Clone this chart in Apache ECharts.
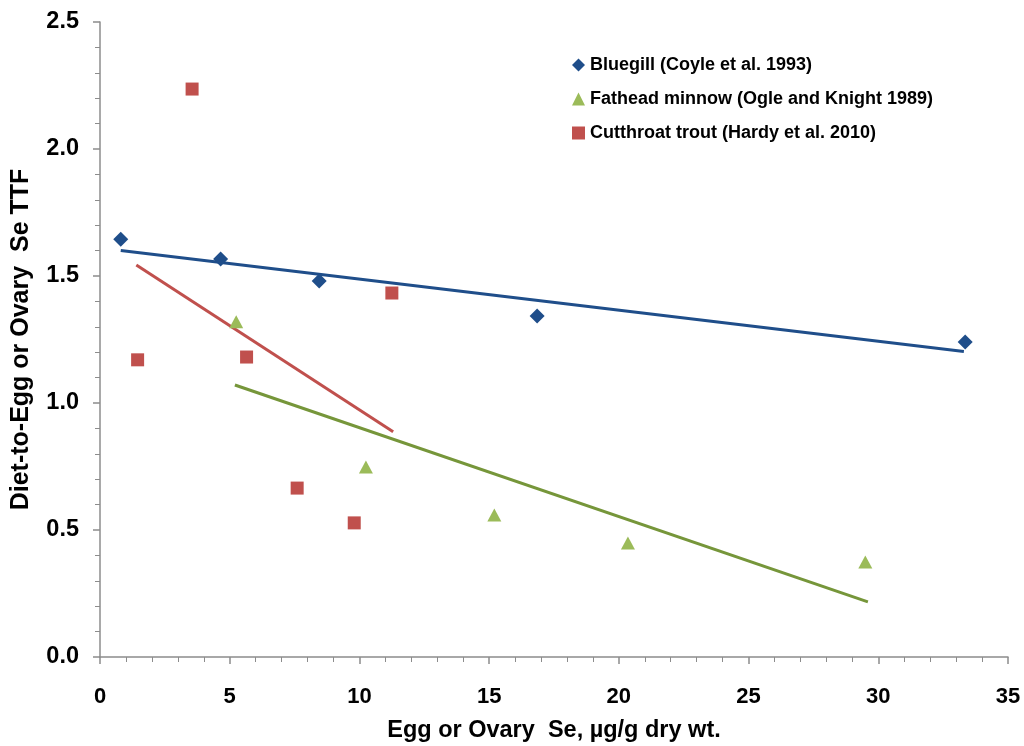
<!DOCTYPE html>
<html>
<head>
<meta charset="utf-8">
<script src="https://cdn.jsdelivr.net/npm/echarts@6/dist/echarts.min.js"></script>
<style>
  html, body { margin: 0; padding: 0; background: #fff; }
  #chart { width: 1024px; height: 746px; }
</style>
</head>
<body>
<div id="chart"></div>
<script>
// Selenium trophic transfer factor vs. egg/ovary selenium
const bluegill = [[0.8, 1.645], [4.65, 1.567], [8.45, 1.48], [16.85, 1.343], [33.35, 1.24]];
const fathead = [[5.25, 1.32], [10.25, 0.748], [15.2, 0.559], [20.35, 0.449], [29.5, 0.374]];
const cutthroat = [[3.55, 2.236], [1.45, 1.17], [5.65, 1.181], [11.25, 1.433], [7.6, 0.665], [9.8, 0.528]];

// Linear trend line end points
const bluegillTrend = [[0.8, 1.60], [33.3, 1.203]];
const fatheadTrend = [[5.2, 1.071], [29.6, 0.217]];
const cutthroatTrend = [[1.4, 1.543], [11.3, 0.887]];

const xTicks = [0, 5, 10, 15, 20, 25, 30, 35];
const yTicks = [0.0, 0.5, 1.0, 1.5, 2.0, 2.5];

const seriesNames = [
  'Bluegill (Coyle et al. 1993)',
  'Fathead minnow (Ogle and Knight 1989)',
  'Cutthroat trout (Hardy et al. 2010)'
];

const BLUE = '#1F4E8A';
const GREEN = '#9BBB59';
const GREEN_LINE = '#76963A';
const RED = '#C0504D';

const DIAMOND = 'path://M5,0 L10,5 L5,10 L0,5 Z';

const chart = echarts.init(document.getElementById('chart'), null, { renderer: 'canvas' });

const axisLineStyle = { color: '#8c8c8c', width: 1.5 };
const FONT = 'Liberation Sans, Arial, sans-serif';

chart.setOption({
  animation: false,
  backgroundColor: '#ffffff',
  grid: { left: 100, right: 16, top: 22, bottom: 89, containLabel: false, outerBoundsMode: 'none' },
  legend: {
    data: [
      { name: seriesNames[0], icon: DIAMOND },
      { name: seriesNames[1], icon: 'triangle' },
      { name: seriesNames[2], icon: 'rect' }
    ],
    orient: 'vertical',
    left: 567,
    top: 51,
    itemGap: 16,
    itemWidth: 13,
    itemHeight: 13,
    textStyle: {
      fontFamily: FONT,
      fontWeight: 'bold',
      fontSize: 18,
      color: '#000'
    }
  },
  xAxis: {
    type: 'value',
    min: xTicks[0],
    max: xTicks[xTicks.length - 1],
    interval: 5,
    name: 'Egg or Ovary  Se, µg/g dry wt.',
    nameLocation: 'middle',
    nameGap: 62,
    nameTextStyle: {
      fontFamily: FONT,
      fontWeight: 'bold',
      fontSize: 23.5,
      color: '#000'
    },
    axisLine: { show: true, lineStyle: axisLineStyle },
    axisTick: { show: true, length: 7, lineStyle: axisLineStyle },
    minorTick: { show: true, splitNumber: 5, length: 5, lineStyle: { color: '#8c8c8c', width: 1 } },
    splitLine: { show: false },
    axisLabel: {
      margin: 29,
      fontFamily: FONT,
      fontWeight: 'bold',
      fontSize: 22,
      color: '#000',
      formatter: v => String(v)
    }
  },
  yAxis: {
    type: 'value',
    min: yTicks[0],
    max: yTicks[yTicks.length - 1],
    interval: 0.5,
    name: 'Diet-to-Egg or Ovary  Se TTF',
    nameLocation: 'middle',
    nameGap: 66,
    nameRotate: 90,
    nameTextStyle: {
      fontFamily: FONT,
      fontWeight: 'bold',
      fontSize: 25,
      color: '#000'
    },
    axisLine: { show: true, lineStyle: axisLineStyle },
    axisTick: { show: true, length: 7, lineStyle: axisLineStyle },
    minorTick: { show: true, splitNumber: 5, length: 5, lineStyle: { color: '#8c8c8c', width: 1 } },
    splitLine: { show: false },
    axisLabel: {
      margin: 21,
      fontFamily: FONT,
      fontWeight: 'bold',
      fontSize: 23.5,
      color: '#000',
      formatter: v => v.toFixed(1)
    }
  },
  series: [
    {
      name: seriesNames[0],
      type: 'scatter',
      data: bluegill,
      symbol: DIAMOND,
      symbolSize: 15,
      itemStyle: { color: BLUE, opacity: 1 },
      z: 5
    },
    {
      name: seriesNames[1],
      type: 'scatter',
      data: fathead,
      symbol: 'triangle',
      symbolSize: [14, 13],
      itemStyle: { color: GREEN, opacity: 1 },
      z: 5
    },
    {
      name: seriesNames[2],
      type: 'scatter',
      data: cutthroat,
      symbol: 'rect',
      symbolSize: 13,
      itemStyle: { color: RED, opacity: 1 },
      z: 5
    },
    {
      type: 'line',
      data: bluegillTrend,
      symbol: 'none',
      lineStyle: { color: BLUE, width: 3 },
      z: 3,
      silent: true
    },
    {
      type: 'line',
      data: fatheadTrend,
      symbol: 'none',
      lineStyle: { color: GREEN_LINE, width: 3 },
      z: 3,
      silent: true
    },
    {
      type: 'line',
      data: cutthroatTrend,
      symbol: 'none',
      lineStyle: { color: RED, width: 3 },
      z: 3,
      silent: true
    }
  ]
});
</script>
</body>
</html>
